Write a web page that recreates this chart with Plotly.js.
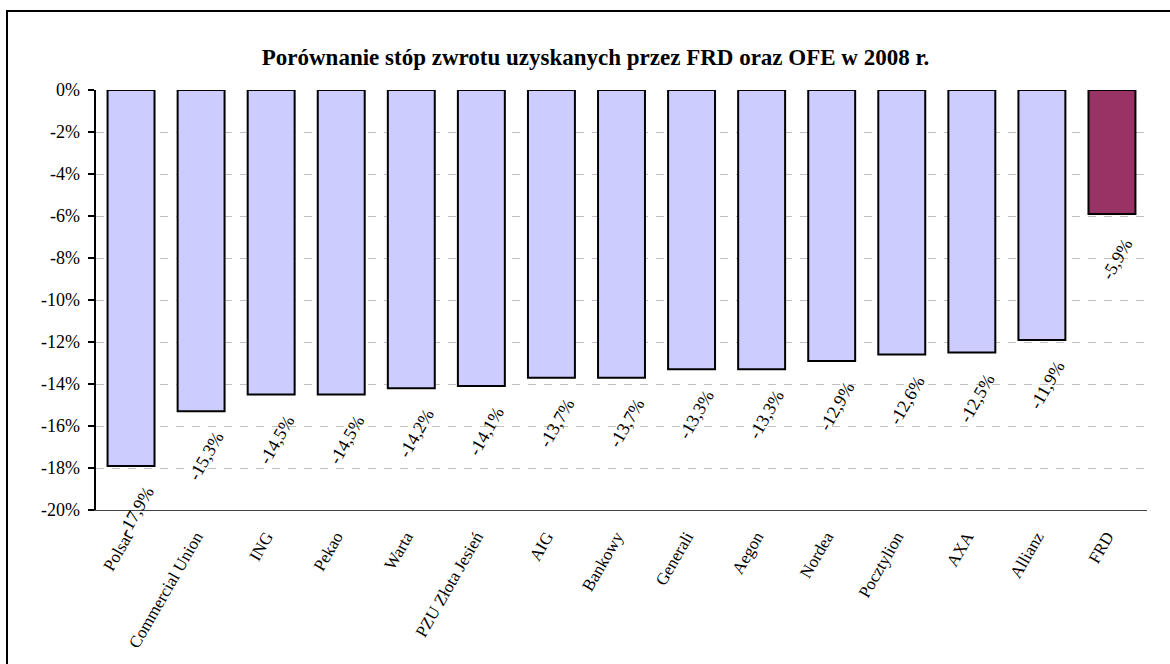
<!DOCTYPE html>
<html>
<head>
<meta charset="utf-8">
<script src="https://cdn.plot.ly/plotly-3.0.1.min.js"></script>
<style>
  html, body { margin: 0; padding: 0; background: #fff; }
  #wrap { position: relative; width: 1170px; height: 664px; overflow: hidden; }
  #chart { position: absolute; left: 0; top: 0; width: 1170px; height: 664px; }
  #frame { position: absolute; left: 6px; top: 10px; width: 1300px; height: 800px;
           border-top: 2px solid #000; border-left: 2px solid #000; pointer-events: none; }
</style>
</head>
<body>
<div id="wrap">
  <div id="chart"></div>
  <div id="frame"></div>
</div>
<script>
const categories = ['Polsat', 'Commercial Union', 'ING', 'Pekao', 'Warta', 'PZU Złota Jesień',
  'AIG', 'Bankowy', 'Generali', 'Aegon', 'Nordea', 'Pocztylion', 'AXA', 'Allianz', 'FRD'];
const returns = [-17.9, -15.3, -14.5, -14.5, -14.2, -14.1, -13.7, -13.7, -13.3, -13.3,
  -12.9, -12.6, -12.5, -11.9, -5.9];
const barColors = ['#CCCCFF', '#CCCCFF', '#CCCCFF', '#CCCCFF', '#CCCCFF', '#CCCCFF', '#CCCCFF',
  '#CCCCFF', '#CCCCFF', '#CCCCFF', '#CCCCFF', '#CCCCFF', '#CCCCFF', '#CCCCFF', '#993366'];
const yTickVals = [0, -2, -4, -6, -8, -10, -12, -14, -16, -18, -20];
const yTickText = ['0%', '-2%', '-4%', '-6%', '-8%', '-10%', '-12%', '-14%', '-16%', '-18%', '-20%'];
const titleText = 'Porównanie stóp zwrotu uzyskanych przez FRD oraz OFE w 2008 r.';

const fmt = v => v.toFixed(1).replace('.', ',') + '%';
const serif = 'Liberation Serif, Times New Roman, serif';

const trace = {
  type: 'bar',
  x: categories,
  y: returns,
  marker: { color: barColors, line: { color: '#000', width: 2 } },
  hoverinfo: 'skip',
  showlegend: false
};

const annotations = categories.map((c, i) => ({
  x: c, y: returns[i], xref: 'x', yref: 'y',
  text: fmt(returns[i]), showarrow: false,
  textangle: -60, xshift: 5, yshift: -45,
  font: { family: serif, size: 18, color: '#000' }
}));

const layout = {
  width: 1170, height: 664,
  margin: { l: 96, r: 23, t: 90, b: 154 },
  paper_bgcolor: '#fff', plot_bgcolor: '#fff',
  bargap: 0.33,
  title: {
    text: '<b>' + titleText + '</b>',
    font: { family: serif, size: 23, color: '#000' },
    xref: 'container', yref: 'container', x: 0.509, y: 0.914,
    xanchor: 'center', yanchor: 'middle'
  },
  xaxis: {
    type: 'category',
    showline: true, linecolor: '#444', linewidth: 1,
    ticks: '', showgrid: false, zeroline: false,
    tickangle: -60,
    ticklabelstandoff: 9, ticklabelshift: -5,
    tickfont: { family: serif, size: 17, color: '#000' },
    fixedrange: true
  },
  xaxis2: {
    overlaying: 'x', side: 'top', anchor: 'y',
    range: [0, categories.length], tick0: 0, dtick: 1,
    showline: true, linecolor: '#000', linewidth: 2.5,
    ticks: 'inside', ticklen: 5, tickwidth: 2, tickcolor: '#000',
    showticklabels: false, showgrid: false, zeroline: false
  },
  yaxis: {
    range: [-20, 0],
    tickvals: yTickVals, ticktext: yTickText,
    showline: true, linecolor: '#000', linewidth: 2.5,
    ticks: 'outside', ticklen: 6, tickwidth: 2, tickcolor: '#000',
    ticklabelstandoff: 4,
    showgrid: true, gridcolor: '#c0c0c0', gridwidth: 1, griddash: '8px,8px',
    zeroline: false,
    tickfont: { family: serif, size: 18, color: '#000' }
  },
  yaxis2: {
    overlaying: 'y', side: 'right', anchor: 'x',
    range: [-20, 0],
    showline: true, linecolor: '#444', linewidth: 1,
    ticks: '', showticklabels: false, showgrid: false, zeroline: false
  },
  annotations: annotations
};

Plotly.newPlot('chart', [trace], layout, { displayModeBar: false, staticPlot: true });
</script>
</body>
</html>
